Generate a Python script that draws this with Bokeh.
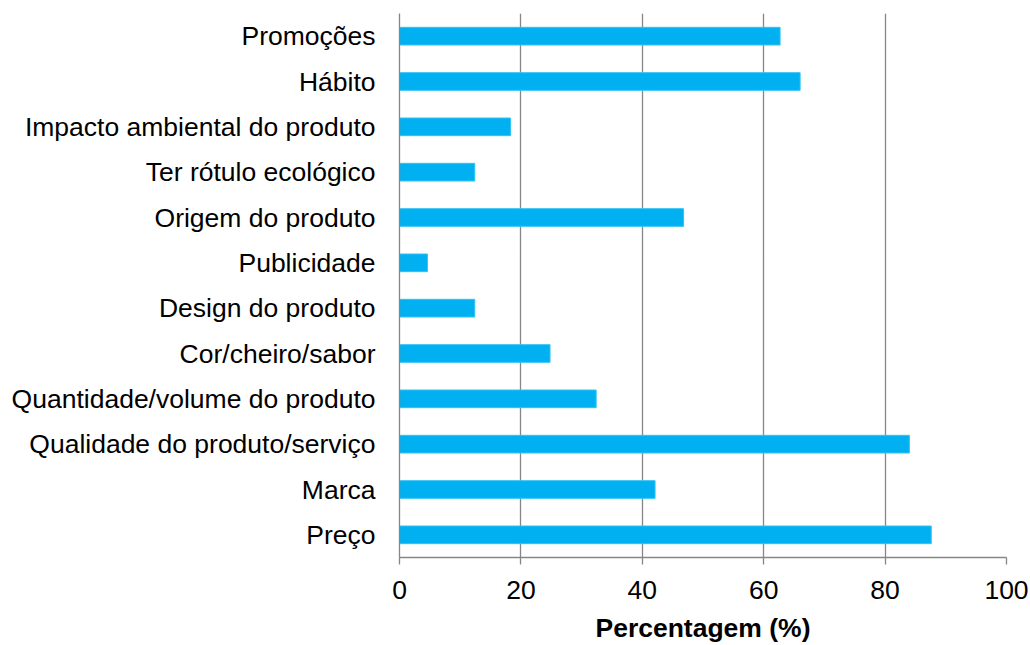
from bokeh.plotting import figure
from bokeh.models import FactorRange, Range1d, FixedTicker
from bokeh.embed import file_html
from bokeh.resources import INLINE

categories = ["Preço", "Marca", "Qualidade do produto/serviço",
              "Quantidade/volume do produto", "Cor/cheiro/sabor",
              "Design do produto", "Publicidade", "Origem do produto",
              "Ter rótulo ecológico", "Impacto ambiental do produto",
              "Hábito", "Promoções"]
values = [87.6, 42.1, 84.0, 32.4, 24.8, 12.4, 4.6, 46.8, 12.4, 18.3, 66.0, 62.7]
x_ticks = [0, 20, 40, 60, 80, 100]

FONT = "Liberation Sans"
GRAY = "#868686"

p = figure(width=1030, height=645, y_range=FactorRange(*categories),
           x_range=Range1d(0, 100), output_backend="svg", toolbar_location=None,
           min_border_left=399, min_border_right=24, min_border_top=13,
           min_border_bottom=85)

p.hbar(y=categories, right=values, left=0, height=0.39,
       fill_color="#00B0F0", line_color="#33C3F5", line_width=1)

p.outline_line_color = None
p.background_fill_color = "white"
p.border_fill_color = "white"

p.ygrid.grid_line_color = None
p.xgrid.grid_line_color = GRAY
p.xgrid.grid_line_width = 1.3
p.xgrid.ticker = FixedTicker(ticks=x_ticks)

xa = p.xaxis[0]
xa.ticker = FixedTicker(ticks=x_ticks)
xa.axis_line_color = GRAY
xa.axis_line_width = 1.3
xa.major_tick_line_color = GRAY
xa.major_tick_line_width = 1.3
xa.major_tick_in = 0
xa.major_tick_out = 7
xa.minor_tick_line_color = None
xa.major_label_text_font = FONT
xa.major_label_text_font_size = "26.5px"
xa.major_label_text_color = "black"
xa.major_label_standoff = 16
xa.axis_label = "Percentagem (%)"
xa.axis_label_text_font = FONT
xa.axis_label_text_font_size = "26.5px"
xa.axis_label_text_font_style = "bold"
xa.axis_label_text_color = "black"
xa.axis_label_standoff = 11

ya = p.yaxis[0]
ya.axis_line_color = GRAY
ya.axis_line_width = 1.3
ya.major_tick_line_color = None
ya.major_tick_in = 0
ya.major_tick_out = 0
ya.minor_tick_line_color = None
ya.major_label_text_font = FONT
ya.major_label_text_font_size = "26.5px"
ya.major_label_text_color = "black"
ya.major_label_standoff = 24

open("out.html", "w").write(file_html(p, INLINE))
